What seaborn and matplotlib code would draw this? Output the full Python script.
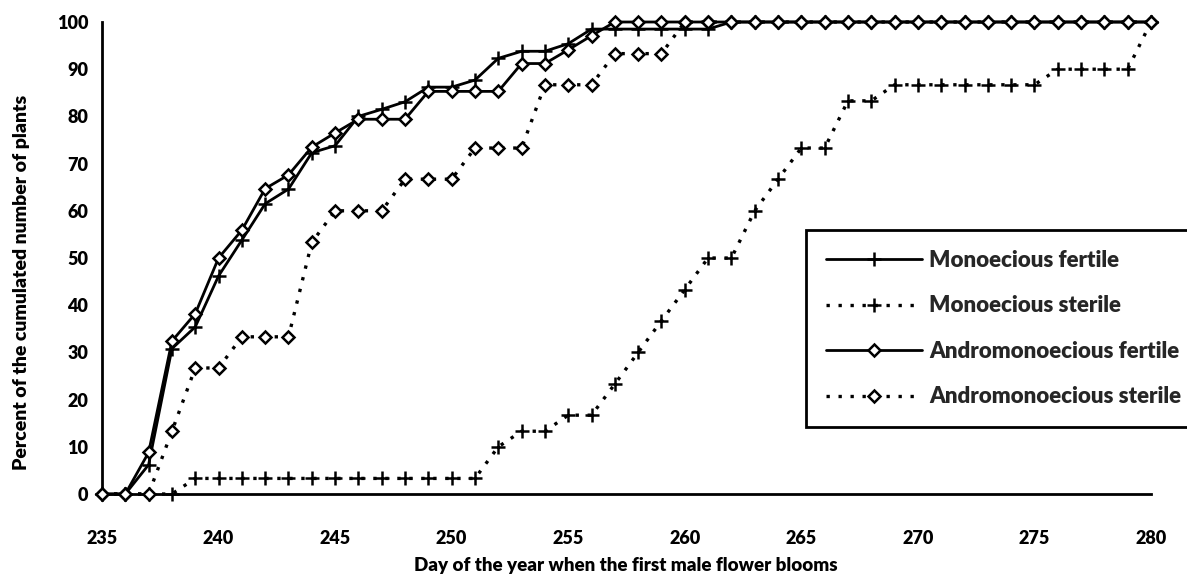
import matplotlib
matplotlib.use("Agg")
import matplotlib.pyplot as plt
import seaborn as sns
import pandas as pd
import numpy as np

days = list(range(235, 281))

mono_fertile = [0, 0, 6.2, 30.8, 35.4, 46.2, 53.8, 61.5, 64.6, 72.3, 73.8, 80.0, 81.5, 83.1,
                86.2, 86.2, 87.7, 92.3, 93.8, 93.8, 95.4, 98.5, 98.5, 98.5, 98.5, 98.5, 98.5,
                100, 100, 100, 100, 100, 100, 100, 100, 100, 100, 100, 100, 100, 100, 100,
                100, 100, 100, 100]
mono_sterile = [0, 0, 0, 0, 3.3, 3.3, 3.3, 3.3, 3.3, 3.3, 3.3, 3.3, 3.3, 3.3, 3.3, 3.3, 3.3,
                10.0, 13.3, 13.3, 16.7, 16.7, 23.3, 30.0, 36.7, 43.3, 50.0, 50.0, 60.0, 66.7,
                73.3, 73.3, 83.3, 83.3, 86.7, 86.7, 86.7, 86.7, 86.7, 86.7, 86.7, 90.0, 90.0,
                90.0, 90.0, 100]
andro_fertile = [0, 0, 8.8, 32.4, 38.2, 50.0, 55.9, 64.7, 67.6, 73.5, 76.5, 79.4, 79.4, 79.4,
                 85.3, 85.3, 85.3, 85.3, 91.2, 91.2, 94.1, 97.1, 100, 100, 100, 100, 100, 100,
                 100, 100, 100, 100, 100, 100, 100, 100, 100, 100, 100, 100, 100, 100, 100,
                 100, 100, 100]
andro_sterile = [0, 0, 0, 13.3, 26.7, 26.7, 33.3, 33.3, 33.3, 53.3, 60.0, 60.0, 60.0, 66.7,
                 66.7, 66.7, 73.3, 73.3, 73.3, 86.7, 86.7, 86.7, 93.3, 93.3, 93.3, 100, 100,
                 100, 100, 100, 100, 100, 100, 100, 100, 100, 100, 100, 100, 100, 100, 100,
                 100, 100, 100, 100]

series_names = ["Monoecious fertile", "Monoecious sterile",
                "Andromonoecious fertile", "Andromonoecious sterile"]
series_values = [mono_fertile, mono_sterile, andro_fertile, andro_sterile]

x_ticks = [235, 240, 245, 250, 255, 260, 265, 270, 275, 280]
y_ticks = [0, 10, 20, 30, 40, 50, 60, 70, 80, 90, 100]

sns.set_theme(style="white")
plt.rcParams["font.family"] = ["Lato", "DejaVu Sans"]
plt.rcParams["font.weight"] = "bold"

fig = plt.figure(figsize=(11.87, 5.77), dpi=100)
ax = fig.add_axes([102 / 1187, 1 - 494 / 577, (1151 - 102) / 1187, (494 - 22) / 577])

dotted = (0, (1, 2.6))
styles = {
    "Monoecious fertile": dict(linestyle="-", marker="+", lw=2.0, ms=10, mew=1.8,
                               mfc="black"),
    "Monoecious sterile": dict(linestyle=dotted, marker="+", lw=2.4, ms=10, mew=1.8,
                               mfc="black"),
    "Andromonoecious fertile": dict(linestyle="-", marker="D", lw=2.0, ms=6.5, mew=1.8,
                                    mfc="white"),
    "Andromonoecious sterile": dict(linestyle=dotted, marker="D", lw=2.4, ms=6.5, mew=1.8,
                                    mfc="white"),
}

order = ["Monoecious sterile", "Andromonoecious sterile", "Monoecious fertile",
         "Andromonoecious fertile"]
for name in order:
    vals = series_values[series_names.index(name)]
    df = pd.DataFrame({"day": days, "pct": vals})
    st = styles[name]
    sns.lineplot(data=df, x="day", y="pct", ax=ax, color="black",
                 linestyle=st["linestyle"], marker=st["marker"], linewidth=st["lw"],
                 markersize=st["ms"], markeredgewidth=st["mew"],
                 markerfacecolor=st["mfc"], markeredgecolor="black",
                 label=name, clip_on=False, zorder=3)

ax.set_xlim(235, 280)
ax.set_ylim(0, 100)
ax.set_xticks(x_ticks)
ax.set_yticks(y_ticks)
ax.set_xticklabels([str(t) for t in x_ticks])
ax.set_yticklabels([str(t) for t in y_ticks])

for s in ["top", "right"]:
    ax.spines[s].set_visible(False)
for s in ["left", "bottom"]:
    ax.spines[s].set_color("black")
    ax.spines[s].set_linewidth(2.0)

ax.tick_params(axis="both", direction="inout", length=12, width=1.6, colors="black",
               labelsize=13, labelcolor="black")
ax.tick_params(axis="x", pad=20)
ax.tick_params(axis="y", pad=4)
for lbl in ax.get_xticklabels() + ax.get_yticklabels():
    lbl.set_fontweight("heavy")

ax.set_xlabel("Day of the year when the first male flower blooms", fontsize=13.5,
              fontweight="heavy", color="black")
ax.set_ylabel("Percent of the cumulated number of plants", fontsize=14,
              fontweight="heavy", color="black")
ax.xaxis.set_label_coords((626 - 102) / 1049, -(565 - 494) / 472)
ax.yaxis.set_label_coords(-(102 - 22) / 1049, (494 - 282) / 472)
ax.xaxis.label.set_verticalalignment("center")
ax.yaxis.label.set_verticalalignment("center")

handles, labels = ax.get_legend_handles_labels()
hmap = dict(zip(labels, handles))
leg = ax.legend([hmap[n] for n in series_names], series_names,
                loc="upper left", bbox_to_anchor=((806 - 102) / (1151 - 102),
                                                  (494 - 230) / (494 - 22)),
                frameon=True, fancybox=False, handlelength=4.3,
                handletextpad=0.35, labelspacing=1.1, borderpad=0.9,
                borderaxespad=0, prop={"weight": "heavy", "size": 16})
leg.get_frame().set_edgecolor("black")
leg.get_frame().set_linewidth(2.0)
leg.get_frame().set_facecolor("white")
leg.get_frame().set_alpha(1)
leg.set_zorder(5)

fig.savefig("out.png", dpi=100, facecolor="white")
